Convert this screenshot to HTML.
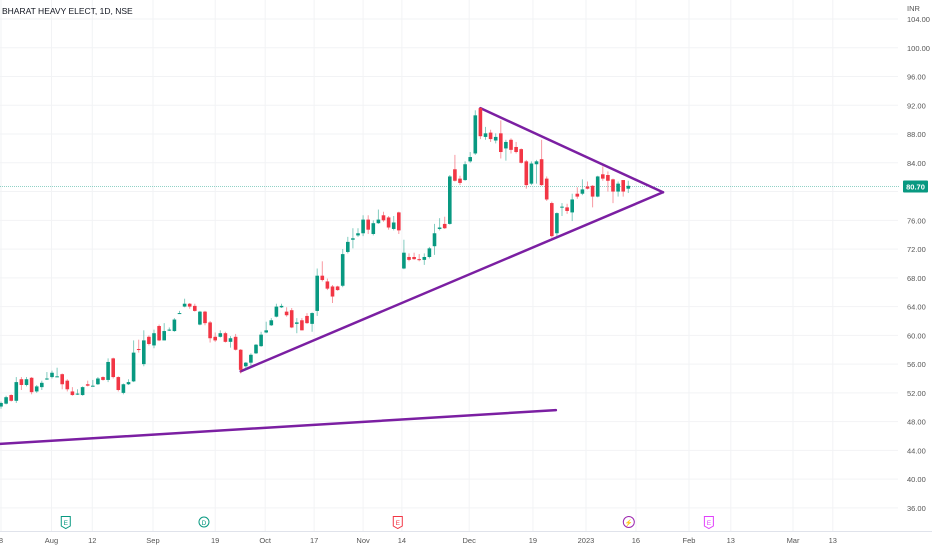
<!DOCTYPE html>
<html><head><meta charset="utf-8">
<style>
html,body{margin:0;padding:0;background:#fff;}
svg{display:block;font-family:"Liberation Sans",sans-serif;}
</style></head>
<body>
<svg id="chart" width="932" height="550" viewBox="0 0 932 550">
  <rect x="0" y="0" width="932" height="550" fill="#ffffff"/>
  <g id="grid"></g>
  <g id="lines"></g>
  <g id="candles"></g>
  <g id="yaxis"></g>
  <g id="xaxis"></g>
  <text x="2" y="14" font-size="8.5" fill="#131722">BHARAT HEAVY ELECT, 1D, NSE</text>
  <text x="907" y="11" font-size="7.5" fill="#555">INR</text>
</svg>
<script>
const opens=[50.1,50.5,51.7,50.9,53.9,53.1,54.1,52.2,52.8,53.9,54.2,54.2,54.6,53.7,52.2,51.8,51.7,53.2,53.0,53.2,54.2,53.8,56.8,54.2,52.0,53.2,53.6,58.1,56.0,59.8,58.6,61.3,59.3,60.7,60.6,63.1,64.0,64.4,64.1,61.5,63.3,61.8,59.8,59.8,60.3,59.1,59.8,58.0,55.7,
56.2,57.5,58.5,60.4,61.4,62.6,63.9,63.3,63.5,61.6,62.1,62.7,61.6,63.4,68.3,67.5,66.8,66.8,66.9,71.6,73.3,73.9,74.2,76.1,74.1,75.6,76.7,76.4,74.8,77.1,69.3,70.9,70.9,70.6,70.5,70.9,72.4,74.8,75.5,
75.5,83.1,81.8,81.6,84.2,85.3,91.6,87.6,88.2,87.1,88.1,86.0,87.2,86.2,85.9,84.2,81.1,83.8,84.5,81.8,78.4,74.2,77.8,77.8,77.1,79.7,79.7,80.7,80.8,79.3,82.4,82.3,81.7,80.0,81.6,80.4];
const closes=[50.6,51.4,50.9,53.5,53.1,53.9,52.1,52.9,53.4,54.0,54.8,54.3,53.2,52.5,51.7,51.9,52.8,53.0,53.0,54.0,53.8,56.3,54.2,52.4,53.2,53.5,57.6,58.0,59.3,58.8,60.3,59.3,60.6,60.8,62.2,63.1,64.4,64.0,63.4,63.3,61.7,59.6,59.3,60.3,59.1,59.6,58.0,55.2,56.2,
57.3,58.7,60.1,60.7,62.1,64.0,64.1,62.8,61.1,61.8,60.7,61.7,63.1,68.3,67.7,66.5,65.4,66.3,71.3,73.0,73.5,74.2,76.1,74.7,75.6,76.1,76.0,75.0,75.7,74.6,71.5,70.5,70.6,70.5,70.9,72.1,74.2,75.0,74.9,
82.1,81.5,81.2,83.8,84.8,90.6,87.7,88.1,87.3,87.6,85.5,86.9,85.8,85.5,84.0,80.9,83.9,84.2,80.9,78.9,73.8,77.0,77.9,77.3,78.9,79.3,80.3,80.4,79.3,82.1,81.8,81.5,80.0,81.1,80.0,80.8];
const highs=[50.8,51.6,51.8,54.2,54.2,54.2,54.2,53.1,53.7,54.9,55.1,55.5,54.7,53.9,52.8,52.5,52.9,53.7,53.8,54.2,54.3,56.8,56.9,54.3,53.3,53.9,59.3,59.4,60.7,60.0,60.8,61.5,61.7,61.1,62.4,63.4,65.1,64.5,64.4,63.4,63.4,62.0,60.4,60.7,60.5,59.9,60.2,58.1,56.3,
57.5,58.8,60.5,61.9,62.4,64.4,64.4,63.9,63.8,62.4,62.4,63.1,63.2,69.3,70.3,67.9,67.0,66.9,72.0,73.7,74.9,74.9,76.7,76.7,76.0,77.5,77.2,76.6,76.6,77.2,73.3,71.4,71.5,71.3,71.4,72.3,75.5,76.3,76.5,
82.3,85.1,82.2,84.2,85.5,91.3,91.7,89.0,88.6,88.1,89.9,87.2,87.4,86.9,86.0,84.4,84.2,84.4,87.2,82.1,78.6,77.1,78.4,78.3,79.7,80.6,81.7,81.4,80.9,82.2,83.5,82.8,81.8,81.4,81.6,81.5];
const lows=[49.8,50.4,50.8,50.6,52.4,52.9,51.8,52.0,52.4,53.8,54.0,54.2,52.5,52.2,51.6,51.7,51.6,52.9,52.9,53.1,53.7,53.5,54.0,52.2,51.8,53.1,53.5,57.6,55.7,58.6,58.2,59.2,59.3,60.6,60.5,63.0,63.9,63.7,63.3,61.4,61.4,59.0,59.1,59.7,59.0,58.3,57.9,54.7,55.2,
55.6,57.4,58.4,60.3,61.3,62.5,63.8,62.6,61.0,60.3,60.7,61.6,60.5,62.7,67.5,66.3,64.5,66.2,66.7,71.4,72.1,73.7,73.8,74.1,73.9,75.5,75.8,74.7,74.6,74.1,69.2,70.3,70.5,70.3,69.8,70.7,71.2,74.6,74.8,
75.4,81.4,80.9,81.5,84.0,85.1,87.3,87.2,86.9,86.7,84.6,84.3,85.3,85.3,83.9,80.4,80.9,81.1,80.8,78.7,73.6,73.7,76.6,76.9,75.9,79.0,79.5,80.3,77.8,79.2,81.5,80.0,78.4,79.3,79.3,79.8];
const priceTicks=[104,100,96,92,88,84,80,76,72,68,64,60,56,52,48,44,40,36];
const timeLabels=["8","Aug","12","Sep","19","Oct","17","Nov","14","Dec","19","2023","16","Feb","13","Mar","13"];
const timeIdx=[0,9.9,17.9,29.8,42,51.8,61.4,71,78.6,91.8,104.3,114.7,124.5,134.9,143.1,155.3,163.1];
const lastPrice=80.70;
// trendlines: [startIndex, startPrice, endIndex, endPrice]
const lineUpper=[94,91.6,129.8,79.9];
const lineLower=[47,55.0,129.8,79.9];
const lineBottom=[-0.2,44.9,108.8,49.6];
const events=[["E",12.7,"#089981"],["D",39.8,"#089981"],["E",77.8,"#f23645"],["⚡",123.1,"#9c27b0"],["E",138.8,"#e040fb"]];

const NS="http://www.w3.org/2000/svg";
const yS=v=>19+(104-v)*7.19;
const xS=i=>1+i*5.1;
function mk(tag,attrs,parent){const e=document.createElementNS(NS,tag);for(const k in attrs)e.setAttribute(k,attrs[k]);parent.appendChild(e);return e;}
const grid=document.getElementById('grid'),yaxis=document.getElementById('yaxis'),xaxis=document.getElementById('xaxis');
priceTicks.forEach(v=>{
  const l=mk('line',{x1:0,x2:898,y1:yS(v),y2:yS(v),stroke:'#f2f3f5','stroke-width':1},grid);
  
  
  if(Math.abs(v-lastPrice)<1.5) return;
  const t=mk('text',{x:907,y:yS(v)+3,'font-size':7.5,fill:'#555'},yaxis);
  t.textContent=v.toFixed(2);
  
  
});
timeLabels.forEach((s,k)=>{
  const x=xS(timeIdx[k]);
  const l=mk('line',{x1:x,x2:x,y1:0,y2:531,stroke:'#f2f3f5','stroke-width':1},grid);
  
  
  const t=mk('text',{x:x,y:543,'font-size':7.5,fill:'#555','text-anchor':'middle'},xaxis);
  t.textContent=s;
  
  
});
const sep=mk('line',{x1:0,x2:932,y1:531.5,y2:531.5,stroke:'#e0e3eb','stroke-width':1},xaxis);


// last price line
const pl=mk('line',{x1:0,x2:900,y1:yS(lastPrice),y2:yS(lastPrice),stroke:'#089981','stroke-opacity':0.45,'stroke-width':1,'stroke-dasharray':'1,1'},grid);


const pb=mk('rect',{x:903,y:yS(lastPrice)-6,width:25,height:12,fill:'#089981',rx:1},yaxis);


const pt=mk('text',{x:915.5,y:yS(lastPrice)+3,'font-size':7.5,fill:'#fff','text-anchor':'middle','font-weight':'bold'},yaxis);
pt.textContent=lastPrice.toFixed(2);


// candles
const cg=document.getElementById('candles');
opens.forEach((o,i)=>{
  const c=closes[i],up=c>=o,col=up?'#089981':'#f23645',x=xS(i);
  const g=mk('g',{},cg);
  
  
  mk('line',{x1:x,x2:x,y1:yS(highs[i]),y2:yS(lows[i]),stroke:col,'stroke-opacity':0.5,'stroke-width':1},g);
  const top=yS(Math.max(o,c)),h=Math.max(1,Math.abs(yS(o)-yS(c)));
  mk('rect',{x:x-1.8,y:top,width:3.6,height:h,fill:col},g);
});
// trendlines
const lg=document.getElementById('lines');
[[lineUpper,'triangle-upper-line'],[lineLower,'triangle-lower-line'],[lineBottom,'long-support-line']].forEach(([a,n])=>{
  const l=mk('line',{x1:xS(a[0]),y1:yS(a[1]),x2:xS(a[2]),y2:yS(a[3]),stroke:'#7b1fa2','stroke-width':2.5,'stroke-linecap':'round'},lg);
  
  
});
// events
events.forEach(([s,i,col])=>{
  const x=xS(i);
  const g=mk('g',{},xaxis);
  
  
  if(s==='⚡'){mk('circle',{cx:x,cy:522,r:5.5,fill:'#fff',stroke:col,'stroke-width':1},g);}
  else if(s==='D'){mk('circle',{cx:x,cy:522,r:5,fill:'#fff',stroke:col,'stroke-width':1},g);}
  else{mk('path',{d:`M${x-4.5} 516.5 L${x+4.5} 516.5 L${x+4.5} 526 L${x} 528.5 L${x-4.5} 526 Z`,fill:'#fff',stroke:col,'stroke-width':1},g);}
  const t=mk('text',{x:x,y:525,'font-size':6.5,fill:col,'text-anchor':'middle'},g);
  t.textContent=s;
});
</script>
</body></html>
